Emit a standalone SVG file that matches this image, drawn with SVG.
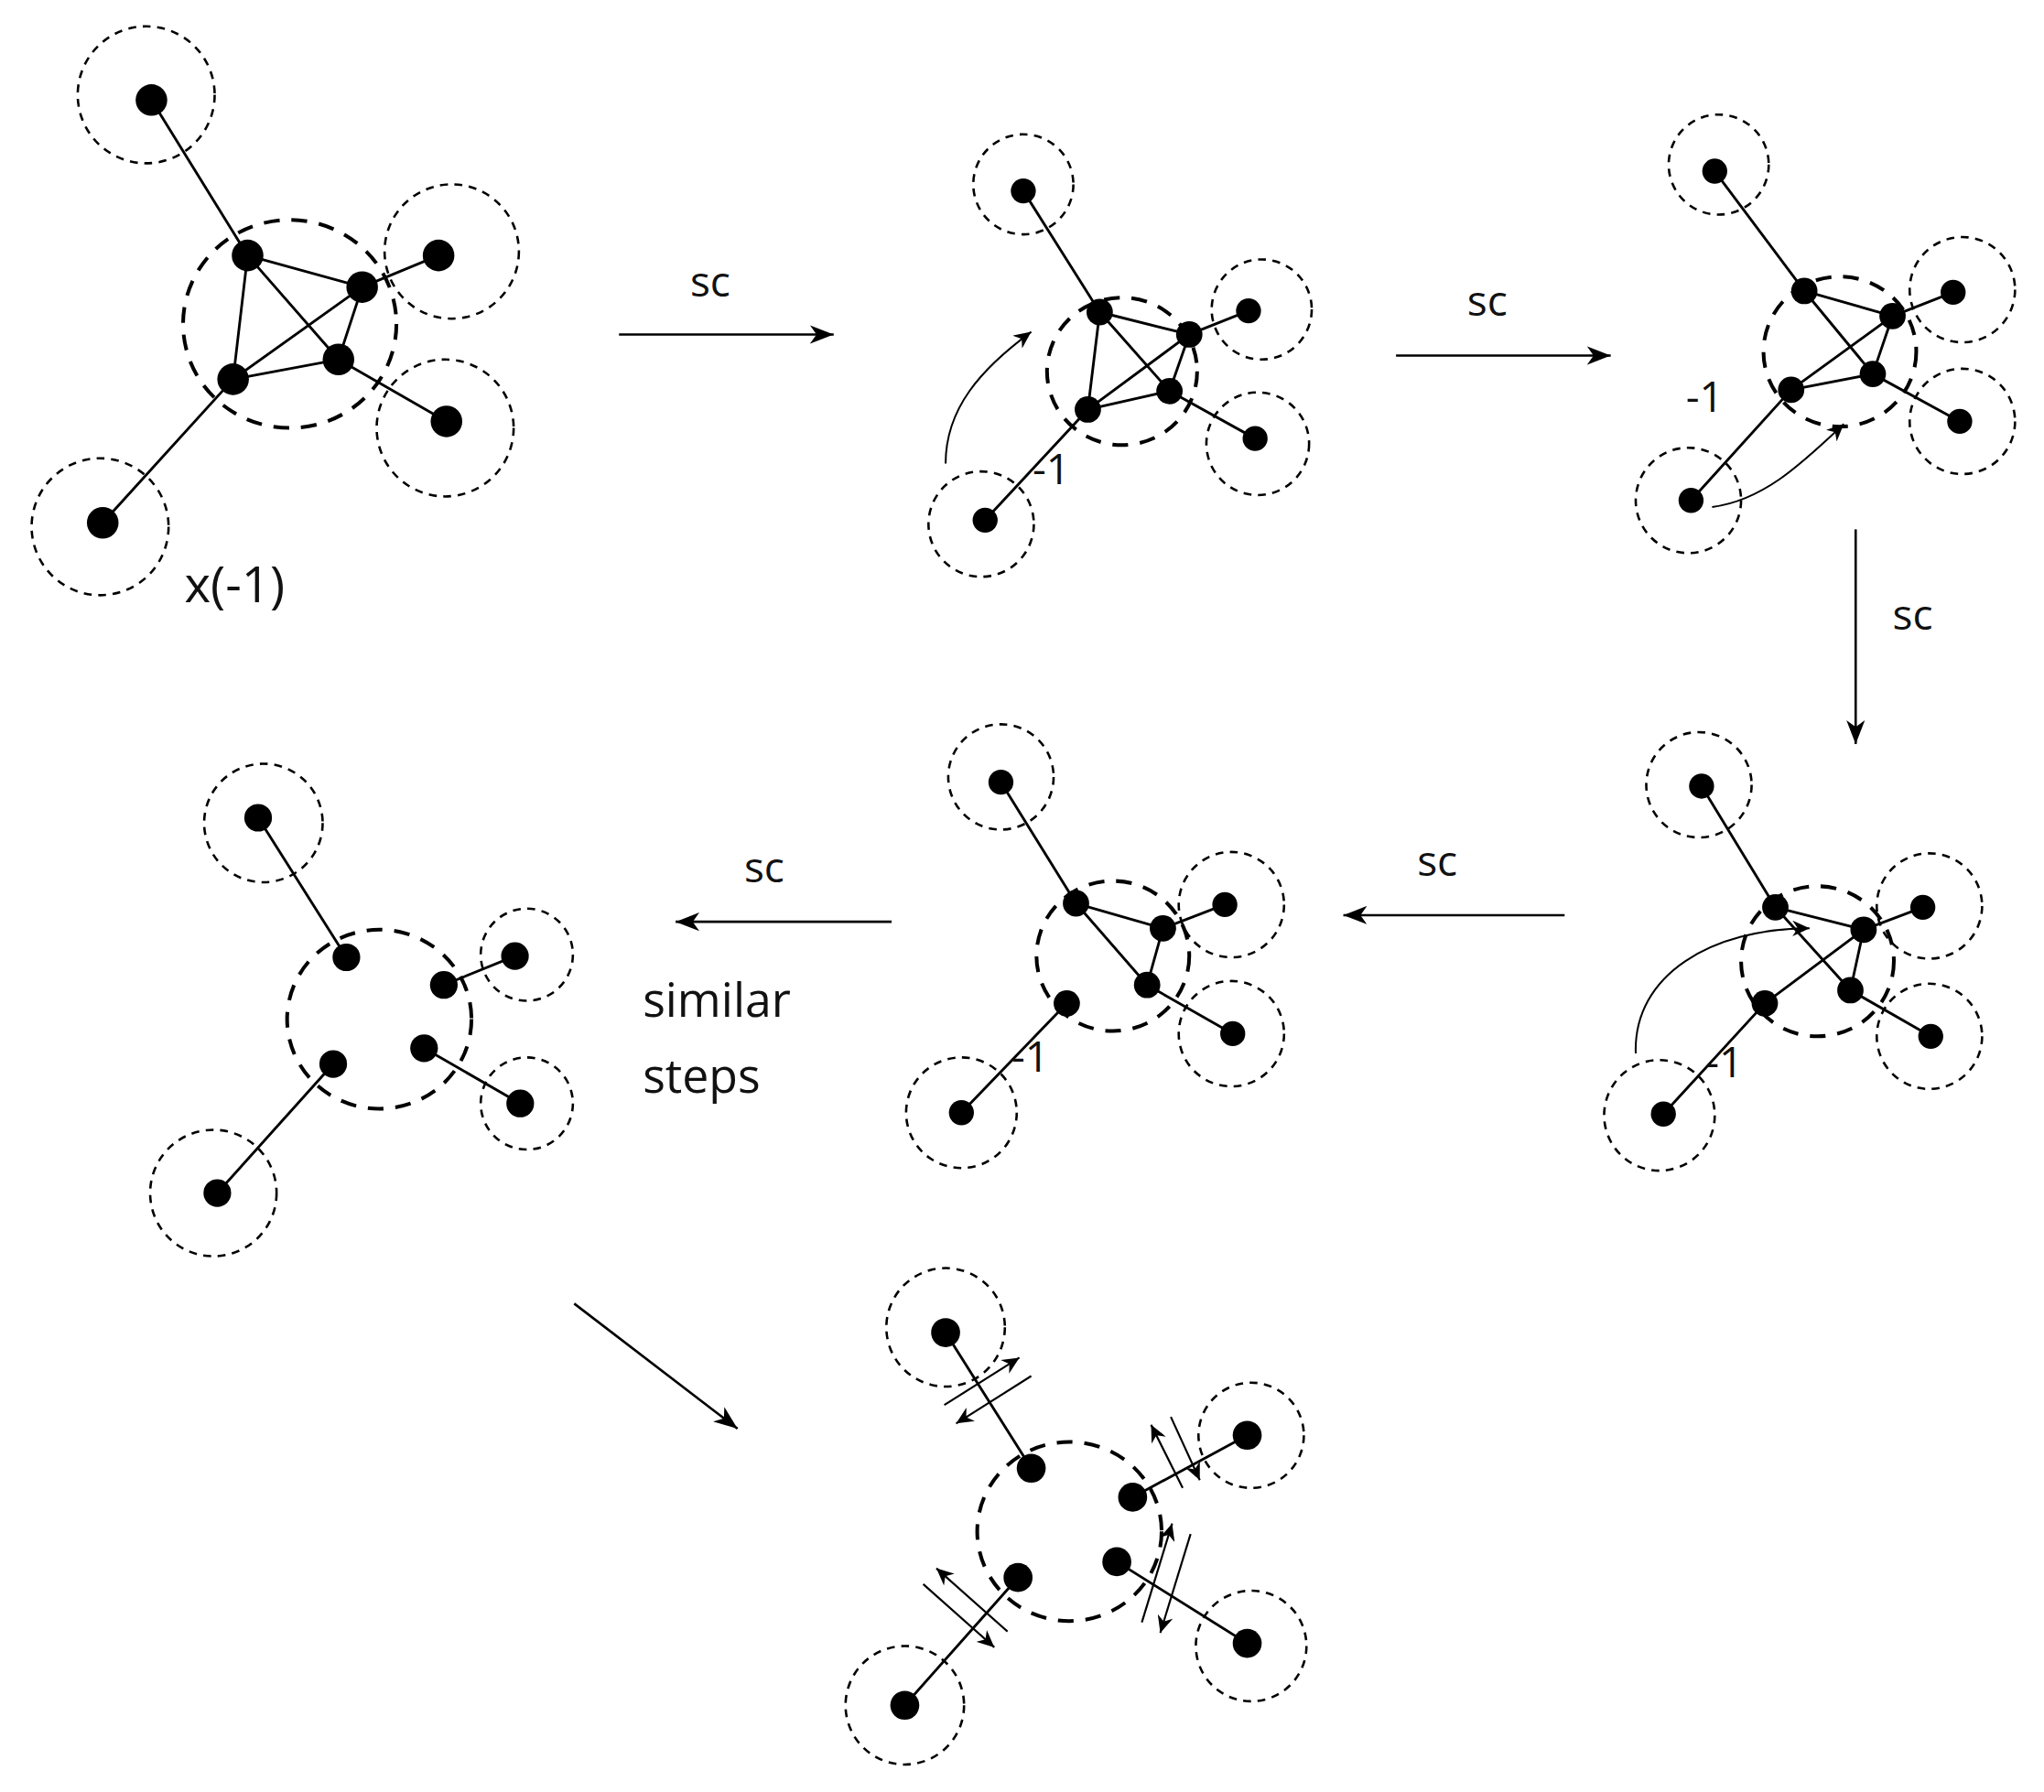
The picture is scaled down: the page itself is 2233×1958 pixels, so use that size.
<svg xmlns="http://www.w3.org/2000/svg" width="2233" height="1958" viewBox="0 0 2233 1958">
<style>
.n{fill:#000}
.e{stroke:#000;stroke-width:2;fill:none}
.oc{stroke:#000;stroke-width:1.8;fill:none;stroke-dasharray:6 5}
.bc{stroke:#000;stroke-width:2.8;fill:none;stroke-dasharray:12 9}
.ar{stroke:#000;stroke-width:1.8;fill:none;marker-end:url(#ah)}
.cv{stroke:#000;stroke-width:1.4;fill:none;marker-end:url(#ahs)}
.xa{stroke:#000;stroke-width:1.5;fill:none;marker-end:url(#ahs)}
text{font-family:"Open Sans","Noto Sans","DejaVu Sans",sans-serif;fill:#111}
.sc{font-size:32px}
.m1{font-size:32px}
</style>
<defs>
<marker id="ah" markerUnits="userSpaceOnUse" markerWidth="20" markerHeight="16" refX="18" refY="8" orient="auto"><path d="M0,1 L18,8 L0,15 L5,8 Z" fill="#000"/></marker>
<marker id="ahs" markerUnits="userSpaceOnUse" markerWidth="14" markerHeight="12" refX="13" refY="6" orient="auto"><path d="M0,0 L13,6 L0,12 L4,6 Z" fill="#000"/></marker>
</defs>
<rect width="2233" height="1958" fill="#fff"/>
<g transform="scale(1.43879)">
<g id="connectors">
<line class="ar" x1="470" y1="254" x2="633" y2="254"/>
<line class="ar" x1="1060" y1="270" x2="1223" y2="270"/>
<line class="ar" x1="1409" y1="402" x2="1409" y2="565"/>
<line class="ar" x1="1188" y1="695" x2="1020" y2="695"/>
<line class="ar" x1="677" y1="700" x2="513" y2="700"/>
<line class="ar" x1="436" y1="990" x2="560" y2="1085"/>
<text class="sc" x="524" y="225">sc</text>
<text class="sc" x="1114" y="240">sc</text>
<text class="sc" x="1437" y="478">sc</text>
<text class="sc" x="1076" y="665">sc</text>
<text class="sc" x="565" y="670">sc</text>
<text class="sc" x="488" y="772" style="font-size:36px">similar</text>
<text class="sc" x="488" y="830" style="font-size:36px">steps</text>
</g>

<g id="panel1">
<circle class="oc" cx="111" cy="72" r="52"/><circle class="oc" cx="343" cy="191" r="51"/><circle class="oc" cx="338" cy="325" r="52"/><circle class="oc" cx="76" cy="400" r="52"/>
<ellipse class="bc" cx="220" cy="246" rx="81" ry="79"/>
<path class="e" d="M115,76L188,194M333,194L275,218M339,320L257,273M78,397L177,288M188,194L275,218M188,194L177,288M188,194L257,273M275,218L257,273M275,218L177,288M177,288L257,273"/>
<circle class="n" cx="115" cy="76" r="12"/><circle class="n" cx="188" cy="194" r="12"/><circle class="n" cx="275" cy="218" r="12"/><circle class="n" cx="257" cy="273" r="12"/><circle class="n" cx="177" cy="288" r="12"/><circle class="n" cx="333" cy="194" r="12"/><circle class="n" cx="339" cy="320" r="12"/><circle class="n" cx="78" cy="397" r="12"/>
<text x="140" y="457" style="font-size:38px">x(-1)</text>
</g>

<g id="panel2">
<circle class="oc" cx="777" cy="140" r="38"/><circle class="oc" cx="958" cy="235" r="38"/><circle class="oc" cx="955" cy="337" r="39"/><circle class="oc" cx="745" cy="398" r="40"/>
<ellipse class="bc" cx="852" cy="282" rx="57" ry="56"/>
<path class="e" d="M777,145L835,237M948,236L903,254M953,333L888,297M748,395L826,311M835,237L903,254M835,237L826,311M835,237L888,297M903,254L888,297M903,254L826,311M826,311L888,297"/>
<circle class="n" cx="777" cy="145" r="9.5"/><circle class="n" cx="835" cy="237" r="10"/><circle class="n" cx="903" cy="254" r="10"/><circle class="n" cx="888" cy="297" r="10"/><circle class="n" cx="826" cy="311" r="10"/><circle class="n" cx="948" cy="236" r="9.5"/><circle class="n" cx="953" cy="333" r="9.5"/><circle class="n" cx="748" cy="395" r="9.5"/>
<path class="cv" d="M718,352C718,310 745,280 783,252"/>
<text class="m1" x="784" y="368">-1</text>
</g>

<g id="panel3">
<circle class="oc" cx="1305" cy="125" r="38"/><circle class="oc" cx="1490" cy="220" r="40"/><circle class="oc" cx="1490" cy="320" r="40"/><circle class="oc" cx="1282" cy="380" r="40"/>
<ellipse class="bc" cx="1397" cy="267" rx="58" ry="57"/>
<path class="e" d="M1302,130L1370,221M1483,222L1437,240M1488,320L1422,284M1284,380L1360,296M1370,221L1437,240M1370,221L1422,284M1437,240L1422,284M1437,240L1360,296M1360,296L1422,284"/>
<circle class="n" cx="1302" cy="130" r="9.5"/><circle class="n" cx="1370" cy="221" r="10"/><circle class="n" cx="1437" cy="240" r="10"/><circle class="n" cx="1422" cy="284" r="10"/><circle class="n" cx="1360" cy="296" r="10"/><circle class="n" cx="1483" cy="222" r="9.5"/><circle class="n" cx="1488" cy="320" r="9.5"/><circle class="n" cx="1284" cy="380" r="9.5"/>
<path class="cv" d="M1300,385C1340,380 1370,350 1400,322"/>
<text class="m1" x="1280" y="313">-1</text>
</g>

<g id="panel4">
<circle class="oc" cx="1290" cy="596" r="40"/><circle class="oc" cx="1465" cy="688" r="40"/><circle class="oc" cx="1465" cy="787" r="40"/><circle class="oc" cx="1260" cy="847" r="42"/>
<ellipse class="bc" cx="1380" cy="730" rx="58" ry="57"/>
<path class="e" d="M1292,597L1348,689M1460,689L1415,706M1466,787L1405,752M1263,846L1340,762M1348,689L1415,706M1348,689L1405,752M1415,706L1405,752M1415,706L1340,762"/>
<circle class="n" cx="1292" cy="597" r="9.5"/><circle class="n" cx="1348" cy="689" r="10"/><circle class="n" cx="1415" cy="706" r="10"/><circle class="n" cx="1405" cy="752" r="10"/><circle class="n" cx="1340" cy="762" r="10"/><circle class="n" cx="1460" cy="689" r="9.5"/><circle class="n" cx="1466" cy="787" r="9.5"/><circle class="n" cx="1263" cy="846" r="9.5"/>
<path class="cv" d="M1242,800C1240,740 1300,705 1374,705"/>
<text class="m1" x="1295" y="818">-1</text>
</g>

<g id="panel5">
<circle class="oc" cx="760" cy="590" r="40"/><circle class="oc" cx="935" cy="687" r="40"/><circle class="oc" cx="935" cy="785" r="40"/><circle class="oc" cx="730" cy="845" r="42"/>
<ellipse class="bc" cx="845" cy="726" rx="58" ry="57"/>
<path class="e" d="M760,594L817,686M930,687L883,705M936,785L871,748M730,845L810,762M817,686L883,705M817,686L871,748M883,705L871,748"/>
<circle class="n" cx="760" cy="594" r="9.5"/><circle class="n" cx="817" cy="686" r="10"/><circle class="n" cx="883" cy="705" r="10"/><circle class="n" cx="871" cy="748" r="10"/><circle class="n" cx="810" cy="762" r="10"/><circle class="n" cx="930" cy="687" r="9.5"/><circle class="n" cx="936" cy="785" r="9.5"/><circle class="n" cx="730" cy="845" r="9.5"/>
<text class="m1" x="768" y="814">-1</text>
</g>

<g id="panel6">
<circle class="oc" cx="200" cy="625" r="45"/><circle class="oc" cx="400" cy="725" r="35"/><circle class="oc" cx="400" cy="838" r="35"/><circle class="oc" cx="162" cy="906" r="48"/>
<ellipse class="bc" cx="288" cy="774" rx="70" ry="68"/>
<path class="e" d="M196,621L263,727M391,726L337,748M395,838L322,796M165,906L253,808"/>
<circle class="n" cx="196" cy="621" r="10.5"/><circle class="n" cx="263" cy="727" r="10.5"/><circle class="n" cx="337" cy="748" r="10.5"/><circle class="n" cx="322" cy="796" r="10.5"/><circle class="n" cx="253" cy="808" r="10.5"/><circle class="n" cx="391" cy="726" r="10.5"/><circle class="n" cx="395" cy="838" r="10.5"/><circle class="n" cx="165" cy="906" r="10.5"/>
</g>

<g id="panel7">
<circle class="oc" cx="718" cy="1008" r="45"/><circle class="oc" cx="950" cy="1090" r="40"/><circle class="oc" cx="950" cy="1250" r="42"/><circle class="oc" cx="687" cy="1295" r="45"/>
<ellipse class="bc" cx="812" cy="1163" rx="70" ry="68"/>
<path class="e" d="M718,1012L783,1115M947,1090L860,1137M947,1248L848,1186M687,1295L773,1198"/>
<circle class="n" cx="718" cy="1012" r="11"/><circle class="n" cx="783" cy="1115" r="11"/><circle class="n" cx="860" cy="1137" r="11"/><circle class="n" cx="848" cy="1186" r="11"/><circle class="n" cx="773" cy="1198" r="11"/><circle class="n" cx="947" cy="1090" r="11"/><circle class="n" cx="947" cy="1248" r="11"/><circle class="n" cx="687" cy="1295" r="11"/>
<line class="xa" x1="717" y1="1067" x2="774" y2="1031"/>
<line class="xa" x1="783" y1="1045" x2="726" y2="1081"/>
<line class="xa" x1="898" y1="1130" x2="874" y2="1082"/>
<line class="xa" x1="889" y1="1076" x2="911" y2="1124"/>
<line class="xa" x1="867" y1="1232" x2="890" y2="1157"/>
<line class="xa" x1="904" y1="1165" x2="881" y2="1240"/>
<line class="xa" x1="765" y1="1239" x2="711" y2="1191"/>
<line class="xa" x1="701" y1="1203" x2="755" y2="1251"/>
</g>
</g>
</svg>
